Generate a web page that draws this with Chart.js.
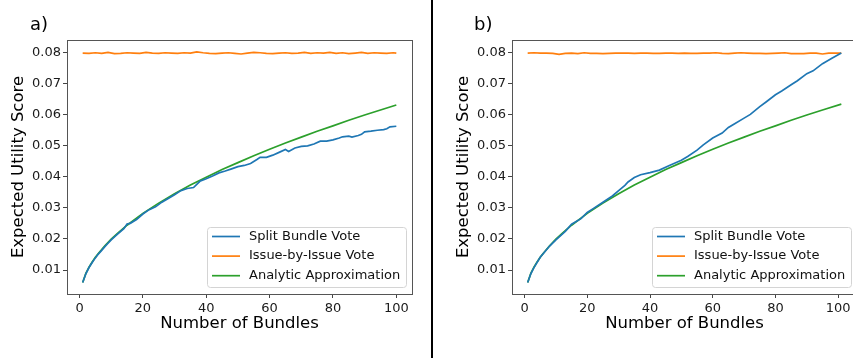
<!DOCTYPE html>
<html>
<head>
<meta charset="utf-8">
<script src="https://cdn.jsdelivr.net/npm/chart.js@4.4.1/dist/chart.umd.min.js"></script>
<style>
  html, body { margin: 0; padding: 0; background: #fff; width: 853px; height: 358px; overflow: hidden; position: relative; font-family: 'DejaVu Sans', sans-serif; }
  canvas { position: absolute; top: 0; }
  #chartA { left: 0; }
  #chartB { left: 445px; }
  .panel-tag { position: absolute; font-size: 18px; line-height: 1.164; color: #000; }
  #divider { position: absolute; left: 431px; top: 0; width: 2px; height: 358px; background: #000; }
</style>
</head>
<body>
<canvas id="chartA" width="430" height="358"></canvas>
<canvas id="chartB" width="430" height="358"></canvas>
<div id="divider"></div>
<div class="panel-tag" style="left:30px;top:14px">a)</div>
<div class="panel-tag" style="left:474px;top:14px">b)</div>
<script>
// series names and colours (matplotlib defaults)
const seriesNames = ['Split Bundle Vote', 'Issue-by-Issue Vote', 'Analytic Approximation'];
const seriesColors = ['#1f77b4', '#ff7f0e', '#2ca02c'];

// axis ticks
const xTicks = [0, 20, 40, 60, 80, 100];
const yTicks = [0.01, 0.02, 0.03, 0.04, 0.05, 0.06, 0.07, 0.08];

// panel a) data
const aBlueX = [1,2,3,4,5,6,7,8,9,10,12,14,15,16,18,20,22,24,26,28,30,32,34,36,38,40,42,44,46,48,50,52,54,56,57,59,61,63,65,66,68,70,72,74,76,78,80,82,83,85,86,88,89,90,92,94,96,97,98,100];
const aBlueY = [0.0060,0.0088,0.0108,0.0124,0.0139,0.0152,0.0163,0.0175,0.0186,0.0197,0.0215,0.0233,0.0248,0.0250,0.0262,0.0280,0.0294,0.0303,0.0318,0.0330,0.0342,0.0355,0.0362,0.0365,0.0385,0.0393,0.0402,0.0412,0.0418,0.0425,0.0432,0.0436,0.0442,0.0455,0.0462,0.0462,0.0469,0.0478,0.0487,0.0481,0.0492,0.0497,0.0499,0.0505,0.0514,0.0514,0.0518,0.0524,0.0528,0.0530,0.0527,0.0532,0.0536,0.0544,0.0546,0.0549,0.0551,0.0554,0.0560,0.0562];
const aOrangeX = [1,3,5,7,9,11,13,15,17,19,21,23,25,27,29,31,33,35,37,39,41,43,45,47,49,51,53,55,57,59,61,63,65,67,69,71,73,75,77,79,81,83,85,87,89,91,93,95,97,99,100];
const aOrangeY = [0.0797,0.0796,0.0798,0.0796,0.0799,0.0795,0.0796,0.0798,0.0797,0.0796,
                  0.0799,0.0797,0.0796,0.0798,0.0797,0.0796,0.0798,0.0797,0.0801,0.0798,
                  0.0796,0.0795,0.0797,0.0798,0.0796,0.0794,0.0797,0.0799,0.0798,0.0796,
                  0.0795,0.0797,0.0798,0.0796,0.0797,0.0799,0.0796,0.0798,0.0797,0.0799,
                  0.0796,0.0798,0.0795,0.0797,0.0799,0.0796,0.0798,0.0797,0.0796,0.0798,0.0797];
const aGreenX = [1,2,3,4,5,6,8,10,12,15,20,25,30,35,40,45,50,55,60,65,70,75,80,85,90,95,100];
const aGreenY = [0.0060,0.0089,0.0109,0.0126,0.0141,0.0154,0.0178,0.0199,0.0218,0.0244,0.0282,0.0315,0.0345,0.0373,0.0398,0.0423,0.0445,0.0467,0.0488,0.0508,0.0527,0.0546,0.0563,0.0581,0.0598,0.0614,0.0630];

// panel b) data
const bBlueX = [1,2,3,5,8,10,13,15,18,20,22,25,28,30,32,33,35,37,40,43,46,50,52,55,57,60,63,65,67,70,72,75,77,80,82,85,87,90,92,95,98,101];
const bBlueY = [0.0060,0.0088,0.0108,0.0141,0.0177,0.0197,0.0224,0.0247,0.0265,0.0285,0.0298,0.0318,0.0338,0.0355,0.0372,0.0383,0.0397,0.0406,0.0413,0.0421,0.0435,0.0453,0.0465,0.0485,0.0502,0.0524,0.0540,0.0558,0.0570,0.0588,0.0600,0.0625,0.0640,0.0663,0.0675,0.0695,0.0708,0.0731,0.0740,0.0763,0.0780,0.0797];
const bOrangeX = [1,3,5,7,9,11,13,15,17,19,21,23,25,27,29,31,33,35,37,39,41,43,45,47,49,51,53,55,57,59,61,63,65,67,69,71,73,75,77,79,81,83,85,87,89,91,93,95,97,99,101];
const bOrangeY = [0.0797,0.0798,0.0797,0.0797,0.0796,0.0793,0.0796,0.0797,0.0795,0.0798,
                  0.0796,0.0796,0.0795,0.0796,0.0797,0.0797,0.0797,0.0796,0.0797,0.0797,
                  0.0796,0.0796,0.0797,0.0797,0.0796,0.0797,0.0796,0.0796,0.0797,0.0797,
                  0.0798,0.0796,0.0795,0.0797,0.0798,0.0797,0.0796,0.0796,0.0795,0.0796,
                  0.0797,0.0798,0.0795,0.0795,0.0795,0.0797,0.0797,0.0794,0.0797,0.0797,0.0797];
const bGreenX = [1,2,3,4,5,6,8,10,12,15,20,25,30,35,40,45,50,55,60,65,70,75,80,85,90,95,101];
const bGreenY = [0.0060,0.0089,0.0109,0.0126,0.0141,0.0154,0.0178,0.0199,0.0218,0.0244,0.0282,0.0315,0.0345,0.0373,0.0398,0.0423,0.0445,0.0467,0.0488,0.0508,0.0527,0.0546,0.0563,0.0581,0.0598,0.0614,0.0633];

const FONT = "'DejaVu Sans', sans-serif";
Chart.defaults.font.family = FONT;

const pairs = (xs, ys) => xs.map((x, i) => ({ x: x, y: ys[i] }));

// matplotlib-like frame around the plot area
const frame = {
    id: 'frame',
    afterDatasetsDraw(chart) {
        const { ctx, chartArea: ca } = chart;
        ctx.save();
        ctx.strokeStyle = '#555';
        ctx.lineWidth = 1;
        ctx.strokeRect(Math.round(ca.left) + 0.5, Math.round(ca.top) + 0.5,
                       Math.round(ca.right - ca.left), Math.round(ca.bottom - ca.top));
        ctx.restore();
    }
};

// legend box in the lower right corner
const boxLegend = {
    id: 'boxLegend',
    afterDraw(chart) {
        const { ctx, chartArea: ca } = chart;
        const w = 199, h = 60;
        const x0 = Math.round(ca.right - 6 - w), y0 = Math.round(ca.bottom - 7 - h);
        ctx.save();
        ctx.beginPath();
        ctx.roundRect(x0 + 0.5, y0 + 0.5, w, h, 3);
        ctx.fillStyle = 'rgba(255,255,255,0.85)';
        ctx.fill();
        ctx.strokeStyle = '#d4d4d4';
        ctx.lineWidth = 1;
        ctx.stroke();
        ctx.font = '13px ' + FONT;
        ctx.textBaseline = 'middle';
        chart.data.datasets.forEach((ds, i) => {
            const y = y0 + 9.5 + i * 19.6;
            ctx.strokeStyle = ds.borderColor;
            ctx.lineWidth = 1.7;
            ctx.beginPath();
            ctx.moveTo(x0 + 5, y);
            ctx.lineTo(x0 + 33, y);
            ctx.stroke();
            ctx.fillStyle = '#111';
            ctx.fillText(ds.label, x0 + 42, y);
        });
        ctx.restore();
    }
};

function makePanel(id, series, xMin, xMax) {
    const datasets = series.map((s, i) => ({
        label: seriesNames[i],
        data: pairs(s[0], s[1]),
        borderColor: seriesColors[i],
        borderWidth: 1.7,
        pointRadius: 0,
        tension: 0,
        fill: false
    }));

    return new Chart(document.getElementById(id), {
        type: 'line',
        data: { datasets: datasets },
        plugins: [frame, boxLegend],
        options: {
            responsive: false,
            animation: false,
            layout: { padding: { top: 40, right: 18, left: 0, bottom: 0 } },
            plugins: { legend: { display: false }, tooltip: { enabled: false } },
            scales: {
                x: {
                    type: 'linear',
                    min: xMin,
                    max: xMax,
                    afterBuildTicks: (s) => { s.ticks = xTicks.map(v => ({ value: v })); },
                    afterFit: (s) => { s.height = 64; },
                    grid: { drawOnChartArea: false, tickLength: 4, tickColor: '#444' },
                    border: { display: false },
                    ticks: { font: { size: 13 }, color: '#1a1a1a', padding: 3, maxRotation: 0,
                             callback: (v) => String(v) },
                    title: { display: true, text: 'Number of Bundles', color: '#000',
                             font: { size: 16.5 }, padding: { top: 0, bottom: 24 } }
                },
                y: {
                    type: 'linear',
                    min: 0.0023,
                    max: 0.0839,
                    afterBuildTicks: (s) => { s.ticks = yTicks.map(v => ({ value: v })); },
                    afterFit: (s) => { s.width = 67; },
                    grid: { drawOnChartArea: false, tickLength: 4, tickColor: '#444' },
                    border: { display: false },
                    ticks: { font: { size: 13 }, color: '#1a1a1a', padding: 2,
                             callback: (v) => v.toFixed(2) },
                    title: { display: true, text: 'Expected Utility Score', color: '#000',
                             font: { size: 16.5 }, padding: { top: 9, bottom: 0 } }
                }
            }
        }
    });
}

makePanel('chartA', [[aBlueX, aBlueY], [aOrangeX, aOrangeY], [aGreenX, aGreenY]], -3.95, 104.95);
makePanel('chartB', [[bBlueX, bBlueY], [bOrangeX, bOrangeY], [bGreenX, bGreenY]], -4, 106);
</script>
</body>
</html>
